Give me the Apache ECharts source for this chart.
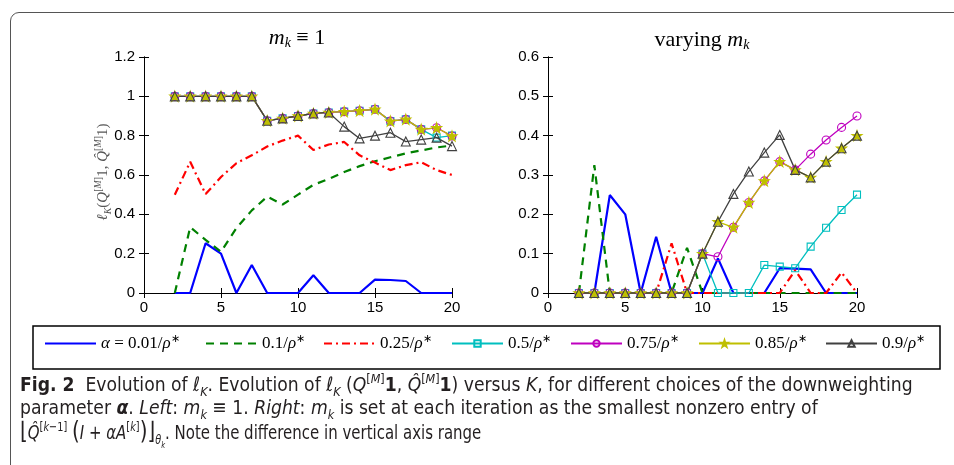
<!DOCTYPE html>
<html>
<head>
<meta charset="utf-8">
<script src="https://cdn.jsdelivr.net/npm/echarts@6/dist/echarts.min.js"></script>
<style>
  body { margin: 0; background: #fff; }
  #chart { position: absolute; left: 0; top: 0; width: 954px; height: 465px; }
  .frame { position: absolute; left: 10px; top: 12px; width: 1000px; height: 600px; border: 1px solid #555; border-radius: 9px; pointer-events: none; }
  .ylab { position: absolute; left: 102px; top: 172px; transform: translate(-50%, -50%) rotate(-90deg); white-space: nowrap;
          font-family: 'Liberation Serif', 'DejaVu Serif', serif; font-size: 15px; color: #555; }
  .ylab sub, .ylab sup { font-size: 10px; }
  .cap { position: absolute; left: 20px; height: 24px; line-height: 24px; white-space: nowrap; transform-origin: 0 50%;
         font-family: 'Liberation Sans Narrow', 'DejaVu Sans Condensed', 'Liberation Sans', sans-serif; font-size: 20px; color: #231f20; }
  .cap sub, .cap sup { font-size: 13px; line-height: 0; }
  .cap .br { font-size: 24px; font-family: 'DejaVu Sans', sans-serif; }
</style>
</head>
<body>
<div id="chart"></div>
<div class="frame"></div>
<div class="ylab"><i>ℓ</i><sub><i>K</i></sub>(<i>Q</i><sup>[<i>M</i>]</sup>1, <i>Q&#770;</i><sup>[<i>M</i>]</sup>1)</div>
<div class="cap" id="c1" data-w="893" style="top:372px"><b>Fig. 2</b>&nbsp; Evolution of <i>ℓ</i><sub><i>K</i></sub>. Evolution of <i>ℓ</i><sub><i>K</i></sub> (<i>Q</i><sup>[<i>M</i>]</sup><b>1</b>, <i>Q&#770;</i><sup>[<i>M</i>]</sup><b>1</b>) versus <i>K</i>, for different choices of the downweighting</div>
<div class="cap" id="c2" data-w="798" style="top:395px">parameter <b><i>α</i></b>. <i>Left</i>: <i>m</i><sub><i>k</i></sub> ≡ 1. <i>Right</i>: <i>m</i><sub><i>k</i></sub> is set at each iteration as the smallest nonzero entry of</div>
<div class="cap" id="c3" data-w="461" style="top:419px"><span class="br">⌊</span><i>Q&#770;</i><sup>[<i>k</i>−1]</sup> <span class="br">(</span><i>I</i> + <i>α</i><i>A</i><sup>[<i>k</i>]</sup><span class="br">)⌋</span><sub><i>θ</i><sub style="font-size:9px"><i>k</i></sub></sub>. Note the difference in vertical axis range</div>
<script>
// iterations K
const K = [2, 3, 4, 5, 6, 7, 8, 9, 10, 11, 12, 13, 14, 15, 16, 17, 18, 19, 20]

// left panel: m_k = 1
const left001 = [0, 0, 0.253, 0.20, 0, 0.142, 0, 0, 0, 0.09, 0, 0, 0, 0.068, 0.066, 0.061, 0, 0, 0]
const left01 = [0, 0.335, 0.27, 0.21, 0.33, 0.42, 0.49, 0.45, 0.50, 0.55, 0.58, 0.615, 0.645, 0.67, 0.69, 0.71, 0.725, 0.74, 0.75]
const left025 = [0.50, 0.667, 0.503, 0.59, 0.66, 0.70, 0.745, 0.775, 0.80, 0.727, 0.755, 0.768, 0.70, 0.663, 0.625, 0.65, 0.665, 0.625, 0.60]
const left05 = [1, 1, 1, 1, 1, 1, 0.876, 0.888, 0.90, 0.913, 0.918, 0.922, 0.927, 0.934, 0.874, 0.883, 0.832, 0.79, 0.80]
const left075 = [1, 1, 1, 1, 1, 1, 0.876, 0.888, 0.90, 0.913, 0.918, 0.922, 0.927, 0.934, 0.874, 0.883, 0.832, 0.84, 0.798]
const left085 = [1, 1, 1, 1, 1, 1, 0.876, 0.888, 0.90, 0.913, 0.918, 0.922, 0.927, 0.934, 0.874, 0.883, 0.832, 0.84, 0.798]
const left09 = [1, 1, 1, 1, 1, 1, 0.876, 0.888, 0.90, 0.913, 0.918, 0.846, 0.786, 0.80, 0.815, 0.77, 0.78, 0.79, 0.747]

// right panel: varying m_k
const right001 = [0, 0, 0.249, 0.20, 0, 0.143, 0, 0, 0, 0.088, 0, 0, 0, 0.063, 0.062, 0.06, 0, 0, 0]
const right01 = [0, 0.325, 0, 0, 0, 0, 0, 0.115, 0, 0, 0, 0, 0, 0, 0, 0, 0, 0, 0]
const right025 = [0, 0, 0, 0, 0, 0, 0.126, 0, 0, 0, 0, 0, 0, 0, 0.058, 0, 0, 0.052, 0]
const right05 = [0, 0, 0, 0, 0, 0, 0, 0, 0.10, 0, 0, 0, 0.071, 0.067, 0.063, 0.118, 0.166, 0.211, 0.25]
const right075 = [0, 0, 0, 0, 0, 0, 0, 0, 0.10, 0.092, 0.167, 0.23, 0.285, 0.334, 0.313, 0.353, 0.389, 0.421, 0.45]
const right085 = [0, 0, 0, 0, 0, 0, 0, 0, 0.10, 0.181, 0.167, 0.23, 0.285, 0.334, 0.313, 0.294, 0.334, 0.368, 0.40]
const right09 = [0, 0, 0, 0, 0, 0, 0, 0, 0.10, 0.181, 0.252, 0.309, 0.357, 0.402, 0.313, 0.294, 0.334, 0.368, 0.40]

const names = ['α = 0.01/ρ*', '0.1/ρ*', '0.25/ρ*', '0.5/ρ*', '0.75/ρ*', '0.85/ρ*', '0.9/ρ*']
const leftData = [left001, left01, left025, left05, left075, left085, left09]
const rightData = [right001, right01, right025, right05, right075, right085, right09]
const xTicks = [0, 20, 5]
const yLeft = [0, 1.2, 0.2]
const yRight = [0, 0.6, 0.1]

const star = 'path://M50,0L61.8,35.1L98.9,35.3L69.1,57.5L80.3,92.7L50,71.3L19.7,92.7L30.9,57.5L1.1,35.3L38.2,35.1Z'
const looks = [
  { color: '#0000ff', width: 2.2, type: 'solid', symbol: 'none' },
  { color: '#008000', width: 2.2, type: [8, 6], symbol: 'none' },
  { color: '#ff0000', width: 2.2, type: [8, 4, 2, 4], symbol: 'none' },
  { color: '#00bfbf', width: 1.3, type: 'solid', symbol: 'rect', size: 7 },
  { color: '#bf00bf', width: 1.3, type: 'solid', symbol: 'circle', size: 8 },
  { color: '#bfbf00', width: 1.3, type: 'solid', symbol: star, size: 10, filled: true },
  { color: '#404040', width: 1.3, type: 'solid', symbol: 'triangle', size: 9 }
]
const legendLeft = [44, 205, 323, 451, 570, 698, 825]

const pts = vals => K.map((k, i) => [k, vals[i]])

const mkSeries = (data, g) => data.map((vals, i) => {
  const s = looks[i]
  return {
    name: names[i],
    type: 'line',
    xAxisIndex: g * 2,
    yAxisIndex: g * 2,
    data: pts(vals),
    symbol: s.symbol,
    symbolSize: s.size || 0,
    showSymbol: s.symbol !== 'none',
    lineStyle: { color: s.color, width: s.width, type: s.type },
    itemStyle: { color: s.filled ? s.color : 'rgba(0,0,0,0)', borderColor: s.color, borderWidth: 1.1 },
    emphasis: { disabled: true },
    clip: false
  }
})

const axisBase = {
  type: 'value',
  axisLine: { show: true, lineStyle: { color: '#000', width: 1 } },
  axisTick: { show: true, inside: true, length: 5, lineStyle: { color: '#000' } },
  splitLine: { show: false },
  axisLabel: { color: '#000', fontSize: 15, fontFamily: 'Liberation Sans, Arial, sans-serif' }
}
const xAx = (g, pos) => ({
  ...axisBase, gridIndex: g, position: pos, min: xTicks[0], max: xTicks[1], interval: xTicks[2],
  axisLabel: { ...axisBase.axisLabel, show: pos === 'bottom', margin: 7 }
})
const yAx = (g, pos, r) => ({
  ...axisBase, gridIndex: g, position: pos, min: r[0], max: r[1], interval: r[2],
  axisLabel: { ...axisBase.axisLabel, show: pos === 'left', margin: 9 }
})

const rich = {
  i: { fontFamily: 'Liberation Serif, serif', fontStyle: 'italic', fontSize: 17, color: '#000' },
  n: { fontFamily: 'Liberation Serif, serif', fontSize: 17, color: '#000' },
  p: { fontFamily: 'Liberation Serif, serif', fontSize: 11, color: '#000', verticalAlign: 'bottom', padding: [0, 0, 8, 0] }
}
const legendText = name => {
  const m = name.match(/([\d.]+)\/ρ\*/)
  const pre = name.startsWith('α') ? '{i|α}{n| = }' : ''
  return pre + '{n|' + m[1] + '/}{i|ρ}{p|∗}'
}

const chart = echarts.init(document.getElementById('chart'))
chart.setOption({
  animation: false,
  backgroundColor: 'transparent',
  grid: [
    { left: 144, top: 57, width: 308, height: 236 },
    { left: 548, top: 57, width: 309, height: 236 }
  ],
  xAxis: [xAx(0, 'bottom'), xAx(0, 'top'), xAx(1, 'bottom'), xAx(1, 'top')],
  yAxis: [yAx(0, 'left', yLeft), yAx(0, 'right', yLeft), yAx(1, 'left', yRight), yAx(1, 'right', yRight)],
  legend: names.map((n, i) => ({
    data: [n],
    left: legendLeft[i],
    top: 334,
    padding: 0,
    itemWidth: 51,
    itemHeight: 8,
    selectedMode: false,
    formatter: legendText,
    textStyle: { rich },
    // plain line samples for the series drawn without markers
    itemStyle: looks[i].symbol === 'none' ? { opacity: 0 } : {}
  })),
  graphic: [
    { type: 'rect', shape: { x: 33, y: 326, width: 907, height: 43 }, style: { fill: 'none', stroke: '#000', lineWidth: 1.5 } },
    {
      type: 'text', x: 297, y: 38,
      style: {
        text: '{i|m}{s|k}{n| ≡ 1}', textAlign: 'center', textVerticalAlign: 'middle',
        rich: {
          i: { fontFamily: 'Liberation Serif, serif', fontStyle: 'italic', fontSize: 22 },
          n: { fontFamily: 'Liberation Serif, serif', fontSize: 22 },
          s: { fontFamily: 'Liberation Serif, serif', fontStyle: 'italic', fontSize: 14, verticalAlign: 'top', padding: [10, 0, 0, 0] }
        }
      }
    },
    {
      type: 'text', x: 702, y: 40,
      style: {
        text: '{n|varying }{i|m}{s|k}', textAlign: 'center', textVerticalAlign: 'middle',
        rich: {
          i: { fontFamily: 'Liberation Serif, serif', fontStyle: 'italic', fontSize: 22 },
          n: { fontFamily: 'Liberation Serif, serif', fontSize: 22 },
          s: { fontFamily: 'Liberation Serif, serif', fontStyle: 'italic', fontSize: 14, verticalAlign: 'top', padding: [10, 0, 0, 0] }
        }
      }
    }
  ],
  series: [...mkSeries(leftData, 0), ...mkSeries(rightData, 1)]
})

// squeeze caption lines to the width they take in the figure
document.querySelectorAll('.cap').forEach(el => {
  const w = el.scrollWidth
  el.style.transform = 'scaleX(' + (Number(el.dataset.w) / w) + ')'
})
</script>
</body>
</html>
